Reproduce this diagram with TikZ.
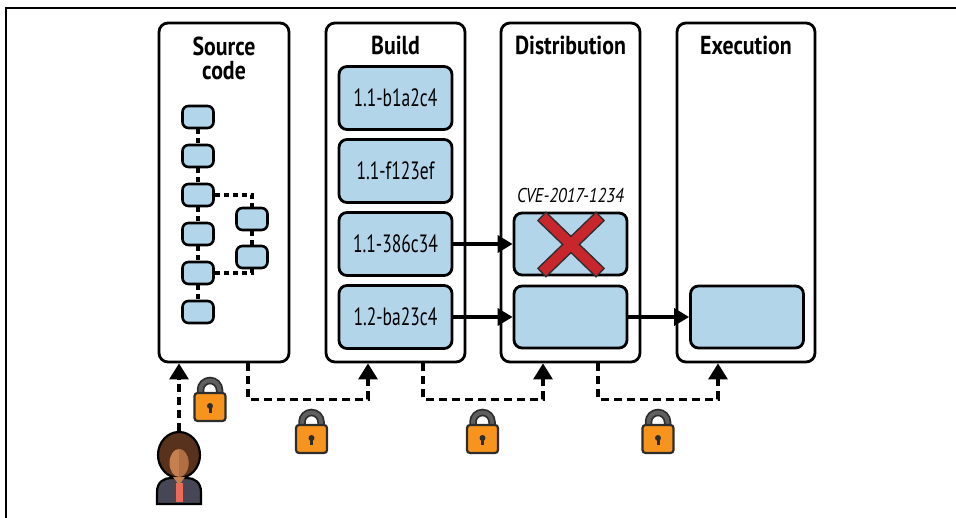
\documentclass[tikz,border=0pt]{standalone}
\usepackage{fontspec}
\setmainfont{PT Sans}[FakeStretch=0.84]
\newfontfamily\labelfont{PT Sans}[FakeStretch=0.7]
\usetikzlibrary{arrows.meta,calc}

\definecolor{boxblue}{RGB}{179,213,234}
\definecolor{lockorange}{RGB}{247,148,30}
\definecolor{shacklegrey}{RGB}{95,95,95}
\definecolor{lockline}{RGB}{45,45,45}
\definecolor{crossred}{RGB}{200,38,45}
\definecolor{hairbrown}{RGB}{88,50,28}
\definecolor{skintan}{RGB}{196,128,80}
\definecolor{skindark}{RGB}{176,110,66}
\definecolor{jacketgrey}{RGB}{70,70,84}
\definecolor{shirtred}{RGB}{238,106,88}

\tikzset{
    phasebox/.style={draw, line width=2.8pt, rounded corners=9pt, minimum height=339pt, inner sep=0pt},
    phasetitle/.style={font=\fontsize{26}{24}\selectfont\bfseries, align=center, inner sep=0pt},
    verbox/.style={draw, fill=boxblue, line width=2.8pt, rounded corners=8pt, minimum width=113pt, minimum height=63pt, font=\labelfont\fontsize{25}{28}\selectfont},
    slotbox/.style={draw, fill=boxblue, line width=2.8pt, rounded corners=8pt, minimum width=113pt, minimum height=62pt},
    commitbox/.style={draw, fill=boxblue, line width=2.6pt, rounded corners=6pt, minimum width=31pt, minimum height=22pt, inner sep=0pt},
    dep/.style={line width=3.2pt, dash pattern=on 5pt off 4pt},
    flow/.style={line width=3.4pt, -{Triangle[length=15pt,width=17pt]}},
    handoff/.style={line width=3.2pt, dash pattern=on 8pt off 5pt, -{Triangle[length=16pt,width=19pt]}},
    padlock/.pic={
        \draw[line width=7.5pt, lockline] (-9.5,-12) -- (-9.5,-17) arc (180:360:9.5) -- (9.5,-12);
        \draw[line width=4pt, shacklegrey] (-9.5,-12) -- (-9.5,-17) arc (180:360:9.5) -- (9.5,-12);
        \draw[line width=2.2pt, lockline, fill=lockorange, rounded corners=3pt] (-15.5,-14) rectangle (15.5,14);
        \fill[lockline] (0,-1) circle (3pt);
        \fill[lockline] (-1.5,-1) rectangle (1.5,6);
    }
}

\begin{document}
\begin{tikzpicture}[x=1pt, y=-1pt]
    \useasboundingbox (0,0) rectangle (956,518);
    \draw[line width=1.5pt] (956,8) -- (6,8) -- (6,518);

    % the four stages
    \node[phasebox, minimum width=130pt] (src)   at (224,192.5)   {};
    \node[phasebox, minimum width=139pt] (build) at (395.5,192.5) {};
    \node[phasebox, minimum width=139pt] (dist)  at (570.5,192.5) {};
    \node[phasebox, minimum width=138pt] (exec)  at (746,192.5)   {};

    \node[phasetitle, anchor=north] (srct) at (224,37) {Source\\code};
    \node[phasetitle, anchor=base] (buildt) at (395.5,55) {Build};
    \node[phasetitle, anchor=base] (distt)  at (570.5,55) {Distribution};
    \node[phasetitle, anchor=base] (exect)  at (746,55)   {Execution};

    % commit history
    \foreach \i in {1,...,6}
        \node[commitbox] (c\i) at (198, 78+39*\i) {};
    \node[commitbox] (f1) at (252,219) {};
    \node[commitbox] (f2) at (252,257) {};
    \foreach \i/\j in {1/2,2/3,3/4,4/5,5/6}
        \draw[dep] (c\i) -- (c\j);
    \draw[dep] (c3) -| (f1);
    \draw[dep] (f1) -- (f2);
    \draw[dep] (f2) |- (c5);

    % builds
    \foreach \lbl [count=\i] in {1.1-b1a2c4,1.1-f123ef,1.1-386c34,1.2-ba23c4}
        \node[verbox] (b\i) at (395.5, 25+73*\i) {\lbl};

    \node[slotbox] (cve) at (570.5,244) {};
    \node[slotbox] (ok)  at (570.5,317) {};
    \node[slotbox] (run) at (747,317)   {};
    \node[anchor=base, inner sep=0pt, font=\fontsize{20}{22}\selectfont\itshape] (cvet) at (570.5,203) {CVE-2017-1234};

    \draw[line width=13pt, lockline, shorten <=-1.5pt, shorten >=-1.5pt] ($(cve)+(-28,-27)$) -- ($(cve)+(29,28)$);
    \draw[line width=13pt, lockline, shorten <=-1.5pt, shorten >=-1.5pt] ($(cve)+(29,-27)$) -- ($(cve)+(-28,28)$);
    \draw[line width=10pt, crossred] ($(cve)+(-28,-27)$) -- ($(cve)+(29,28)$);
    \draw[line width=10pt, crossred] ($(cve)+(29,-27)$) -- ($(cve)+(-28,28)$);

    \draw[flow] (b3) -- (cve);
    \draw[flow] (b4) -- (ok);
    \draw[flow] (ok) -- (run);

    % developer
    \begin{scope}[shift={(179,0)}]
        \draw[line width=2.2pt, fill=hairbrown] (0,455) ellipse [x radius=21pt, y radius=23pt];
        \fill[skintan] (0,463) ellipse [x radius=9.5pt, y radius=14pt];
        \begin{scope}
            \clip (0,445) rectangle (12,480);
            \fill[skindark] (0,463) ellipse [x radius=9.5pt, y radius=14pt];
        \end{scope}
        \draw[line width=2.2pt, fill=jacketgrey] (-22,504) -- (-22,492) .. controls (-22,482) and (-15,478) .. (-8,478)
            -- (8,478) .. controls (15,478) and (22,482) .. (22,492) -- (22,504) -- cycle;
        \fill[shirtred] (-3.5,483) rectangle (3.5,502);
        \fill[skintan] (-6,477) -- (6,477) -- (0,485) -- cycle;
    \end{scope}
    \coordinate (person) at (179,431);

    % signed hand-offs
    \draw[handoff] (person) -- (person |- src.south);
    \draw[handoff] ([xshift=24pt]src.south) -- ++(0,36) -| ([xshift=-27.5pt]build.south);
    \draw[handoff] ([xshift=27.5pt]build.south) -- ++(0,36) -| ([xshift=-27.5pt]dist.south);
    \draw[handoff] ([xshift=27.5pt]dist.south) -- ++(0,36) -| ([xshift=-28pt]exec.south);

    \foreach \p in {(210,407),(311.5,439),(482.5,439),(658,439)}
        \pic at \p {padlock};
\end{tikzpicture}
\end{document}
